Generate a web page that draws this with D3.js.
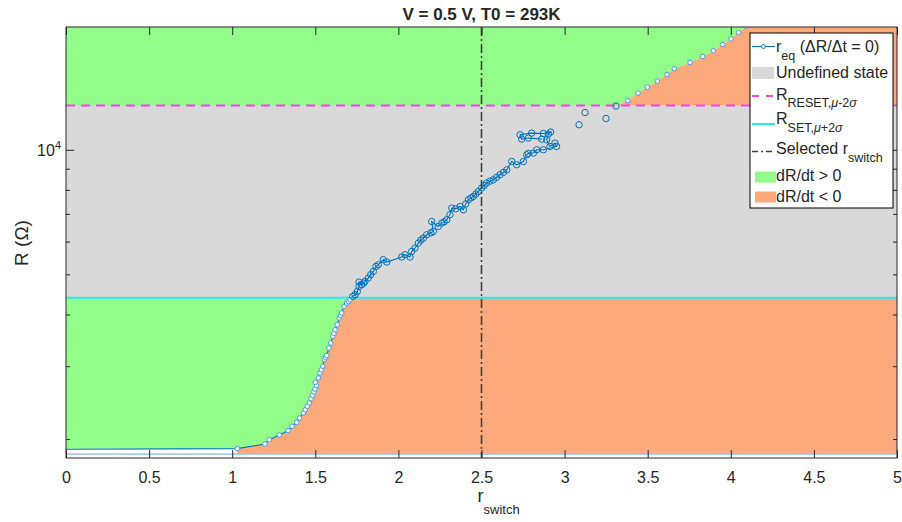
<!DOCTYPE html>
<html>
<head>
<meta charset="utf-8">
<style>
  body { margin: 0; background: #fff; }
  text { font-family: "Liberation Sans", Arial, Helvetica, sans-serif; fill: #262626; }
</style>
</head>
<body>
<script src="https://cdn.jsdelivr.net/npm/d3@7"></script>
<script>
var width = 902, height = 522;
var margin = { top: 27, right: 5, bottom: 64, left: 66 };
var innerW = width - margin.left - margin.right;
var innerH = height - margin.top - margin.bottom;

// axis ticks
var xTicks = [0, 0.5, 1, 1.5, 2, 2.5, 3, 3.5, 4, 4.5, 5];
var yMinorTicks = [2000, 3000, 4000, 5000, 6000, 7000, 8000, 9000];
var yMajorTicks = [10000];

// limits
var rSetLimit = 4390;     // R_SET, mu+2sigma
var rResetLimit = 12800;  // R_RESET, mu-2sigma
var rSelected = 2.5;
var rFloor = 1845;

// r_eq (dR/dt = 0), connected part [r_switch, R]
var eqPoints = [
  [-0.05, 1889], [1.031, 1896], [1.197, 1946], [1.223, 1993], [1.283, 2046], [1.336, 2096],
  [1.360, 2147], [1.388, 2195], [1.404, 2248], [1.428, 2312], [1.440, 2355], [1.452, 2399],
  [1.464, 2445], [1.474, 2504], [1.484, 2550], [1.492, 2599], [1.498, 2642], [1.508, 2692],
  [1.500, 2742], [1.518, 2810], [1.528, 2889], [1.536, 2940], [1.545, 2998], [1.554, 3112],
  [1.562, 3150], [1.569, 3182], [1.582, 3319], [1.593, 3413], [1.605, 3540], [1.612, 3600],
  [1.619, 3674], [1.632, 3777], [1.644, 3922], [1.652, 3980], [1.659, 4033], [1.673, 4183],
  [1.689, 4263], [1.700, 4300], [1.709, 4343], [1.725, 4423], [1.739, 4465], [1.753, 4548],
  [1.763, 4675], [1.763, 4791], [1.779, 4720], [1.790, 4760], [1.799, 4808], [1.819, 4899],
  [1.833, 4991], [1.849, 5082], [1.865, 5225], [1.879, 5275], [1.909, 5424], [1.930, 5355],
  [2.020, 5507], [2.040, 5578], [2.070, 5507], [2.080, 5680], [2.100, 5789], [2.120, 5952],
  [2.135, 6050], [2.150, 6117], [2.170, 6232], [2.195, 6300], [2.210, 6346], [2.200, 6710],
  [2.240, 6526], [2.261, 6650], [2.275, 6700], [2.291, 6774], [2.310, 6966], [2.321, 7231],
  [2.345, 7200], [2.371, 7295], [2.391, 7163], [2.405, 7400], [2.421, 7572], [2.436, 7650],
  [2.451, 7713], [2.466, 7820], [2.481, 7930], [2.501, 8086], [2.516, 8200], [2.531, 8311],
  [2.551, 8400], [2.571, 8462], [2.591, 8580], [2.611, 8700], [2.632, 8820], [2.652, 8946],
  [2.682, 9370], [2.712, 9200], [2.752, 9370], [2.772, 9725], [2.782, 9800], [2.812, 9818],
  [2.832, 10000], [2.872, 10000], [2.952, 10186], [2.942, 10380], [2.912, 10186], [2.892, 10572],
  [2.902, 10912], [2.916, 11036], [2.872, 10950], [2.802, 10973], [2.732, 10870], [2.742, 10612],
  [2.782, 10673], [2.862, 10612]
];

// r_eq, isolated points (no connecting line)
var eqIsolated = [
  [3.087, 11494], [3.123, 12303], [3.249, 11900], [3.309, 12753], [3.380, 13155], [3.442, 13709],
  [3.498, 14171], [3.558, 14655], [3.616, 15202], [3.660, 15693], [3.755, 16254], [3.831, 16805],
  [3.895, 17347], [3.951, 17966], [4.001, 18534], [4.047, 19196], [4.090, 19900]
];

// boundary between dR/dt > 0 and dR/dt < 0
var boundary = [
  [1.031, 1845], [1.031, 1896], [1.197, 1946], [1.223, 1993], [1.283, 2046], [1.336, 2096],
  [1.360, 2147], [1.388, 2195], [1.404, 2248], [1.428, 2312], [1.452, 2399], [1.474, 2504],
  [1.492, 2599], [1.508, 2692], [1.518, 2810], [1.545, 2998], [1.569, 3182], [1.593, 3413],
  [1.619, 3674], [1.644, 3922], [1.673, 4183], [1.709, 4343], [1.739, 4465], [3.309, 12753],
  [3.380, 13155], [3.442, 13709], [3.498, 14171], [3.558, 14655], [3.616, 15202], [3.660, 15693],
  [3.755, 16254], [3.831, 16805], [3.895, 17347], [3.951, 17966], [4.001, 18534], [4.047, 19196],
  [4.100, 20000]
];

var colGreen = "#93fd8a", colOrange = "#fcaa7c", colGray = "#d9d9d9";
var colBlue = "#0072bd", colMag = "#f044f0", colCyan = "#2ee6f2", colDark = "#404040";

var svg = d3.select("body").append("svg")
  .attr("width", width).attr("height", height);

svg.append("defs").append("clipPath").attr("id", "clip")
  .append("rect").attr("width", innerW).attr("height", innerH);

var g = svg.append("g").attr("transform", "translate(" + margin.left + "," + margin.top + ")");

var x = d3.scaleLinear().domain([0, 5]).range([0, innerW]);
var y = d3.scaleLog().domain([1800, 19800]).range([innerH, 0]);

var plot = g.append("g").attr("clip-path", "url(#clip)");

// dR/dt > 0
plot.append("path")
  .datum(boundary.slice(1))
  .attr("fill", colGreen)
  .attr("d", d3.area().y(d => y(d[1])).x0(x(0)).x1(d => x(d[0])));

// dR/dt < 0
plot.append("path")
  .datum(boundary)
  .attr("fill", colOrange)
  .attr("d", d3.area().y(d => y(d[1])).x0(d => x(d[0])).x1(x(5)));

// undefined state
plot.append("rect")
  .attr("x", 0).attr("width", innerW)
  .attr("y", y(rResetLimit)).attr("height", y(rSetLimit) - y(rResetLimit))
  .attr("fill", colGray);

plot.append("line")
  .attr("x1", 0).attr("x2", innerW)
  .attr("y1", y(rFloor) + 0.5).attr("y2", y(rFloor) + 0.5)
  .attr("stroke", "#5fa8e0").attr("stroke-width", 1);

plot.append("line")
  .attr("x1", 0).attr("x2", innerW)
  .attr("y1", y(rSetLimit)).attr("y2", y(rSetLimit))
  .attr("stroke", colCyan).attr("stroke-width", 2);

plot.append("line")
  .attr("x1", 0).attr("x2", innerW)
  .attr("y1", y(rResetLimit)).attr("y2", y(rResetLimit))
  .attr("stroke", colMag).attr("stroke-width", 2)
  .attr("stroke-dasharray", "9,6");

// r_eq curve
plot.append("path")
  .datum(eqPoints)
  .attr("fill", "none")
  .attr("stroke", colBlue)
  .attr("stroke-width", 1.1)
  .attr("d", d3.line().x(d => x(d[0])).y(d => y(d[1])));

function inGray(d) { return d[1] > rSetLimit && d[1] < rResetLimit; }

plot.selectAll("circle.eq")
  .data(eqPoints.slice(1).concat(eqIsolated))
  .enter().append("circle")
  .attr("class", "eq")
  .attr("cx", d => x(d[0]))
  .attr("cy", d => y(d[1]))
  .attr("r", d => inGray(d) ? 3.2 : 2.3)
  .attr("fill", d => inGray(d) ? "none" : "#ffffff")
  .attr("stroke", d => inGray(d) ? colBlue : "#4a9be0")
  .attr("stroke-width", 1);

// selected r_switch
plot.append("line")
  .attr("x1", x(rSelected)).attr("x2", x(rSelected))
  .attr("y1", 0).attr("y2", innerH)
  .attr("stroke", colDark).attr("stroke-width", 1.6)
  .attr("stroke-dasharray", "9,3,2,3");

// axes
var axisCol = "#262626";
var xb = g.append("g").attr("transform", "translate(0," + innerH + ")")
  .call(d3.axisBottom(x).tickValues(xTicks).tickSizeInner(-8).tickSizeOuter(0)
    .tickPadding(14).tickFormat(d3.format("~g")));
var xt = g.append("g")
  .call(d3.axisTop(x).tickValues(xTicks).tickSizeInner(-8).tickSizeOuter(0).tickFormat(""));
var yl = g.append("g")
  .call(d3.axisLeft(y).tickValues(yMinorTicks).tickSizeInner(-4).tickSizeOuter(0).tickFormat(""));
var yl2 = g.append("g")
  .call(d3.axisLeft(y).tickValues(yMajorTicks).tickSizeInner(-8).tickSizeOuter(0).tickFormat(""));
var yr = g.append("g").attr("transform", "translate(" + innerW + ",0)")
  .call(d3.axisRight(y).tickValues(yMinorTicks).tickSizeInner(-4).tickSizeOuter(0).tickFormat(""));
var yr2 = g.append("g").attr("transform", "translate(" + innerW + ",0)")
  .call(d3.axisRight(y).tickValues(yMajorTicks).tickSizeInner(-8).tickSizeOuter(0).tickFormat(""));

[xb, xt, yl, yl2, yr, yr2].forEach(function (a) {
  a.select(".domain").remove();
  a.selectAll(".tick line").attr("stroke", axisCol).attr("stroke-width", 1);
  a.selectAll("text").attr("fill", axisCol).style("font-size", "16px")
    .style("font-family", "'Liberation Sans', Arial, sans-serif");
});

// 10^4 label
yMajorTicks.forEach(function (v) {
  var t = g.append("text")
    .attr("x", -5).attr("y", y(v) + 6)
    .attr("text-anchor", "end")
    .style("font-size", "16px");
  t.append("tspan").text("10");
  t.append("tspan").attr("dy", -7).style("font-size", "11px").text(Math.log10(v));
});

g.append("rect")
  .attr("width", innerW).attr("height", innerH)
  .attr("fill", "none").attr("stroke", axisCol).attr("stroke-width", 1);

// title
svg.append("text")
  .attr("x", margin.left + innerW / 2).attr("y", 20)
  .attr("text-anchor", "middle")
  .style("font-size", "17px").style("font-weight", "bold")
  .text("V = 0.5 V, T0 = 293K");

// x label
var xl = svg.append("text")
  .attr("x", margin.left + innerW / 2 - 4).attr("y", 502)
  .style("font-size", "18px");
xl.append("tspan").text("r");
xl.append("tspan").attr("dy", 12).style("font-size", "13px").text("switch");

// y label
svg.append("text")
  .attr("transform", "translate(28," + (margin.top + 216) + ") rotate(-90)")
  .attr("text-anchor", "middle")
  .style("font-size", "19px")
  .text("R (\u03A9)");

// legend
var lg = svg.append("g").attr("transform", "translate(750,33)");
lg.append("rect").attr("width", 143).attr("height", 175)
  .attr("fill", "#ffffff").attr("stroke", "#000").attr("stroke-width", 1);

function legText(yy, main, sub, rest) {
  var t = lg.append("text").attr("x", 26).attr("y", yy).style("font-size", "16px");
  t.append("tspan").text(main);
  if (sub) {
    t.append("tspan").attr("dy", 8).style("font-size", "12.5px").text(sub);
    if (rest) t.append("tspan").attr("dy", -8).text(rest);
  }
}

// r_eq
lg.append("line").attr("x1", 2).attr("x2", 25).attr("y1", 13.5).attr("y2", 13.5)
  .attr("stroke", colBlue).attr("stroke-width", 1);
lg.append("circle").attr("cx", 13.5).attr("cy", 13.5).attr("r", 2)
  .attr("fill", "#fff").attr("stroke", colBlue).attr("stroke-width", 0.9);
legText(19, "r", "eq", " (\u0394R/\u0394t = 0)");

// undefined state
lg.append("rect").attr("x", 2).attr("y", 34).attr("width", 22).attr("height", 12).attr("fill", colGray);
legText(45, "Undefined state");

// R_RESET
lg.append("line").attr("x1", 2).attr("x2", 25).attr("y1", 63).attr("y2", 63)
  .attr("stroke", colMag).attr("stroke-width", 2).attr("stroke-dasharray", "7,7");
var tR = lg.append("text").attr("x", 26).attr("y", 67).style("font-size", "16px");
tR.append("tspan").text("R");
tR.append("tspan").attr("dy", 7).style("font-size", "12.5px").text("RESET,");
tR.append("tspan").style("font-size", "12.5px").style("font-style", "italic").text("\u03BC");
tR.append("tspan").style("font-size", "12.5px").text("-2");
tR.append("tspan").style("font-size", "12.5px").style("font-style", "italic").text("\u03C3");

// R_SET
lg.append("line").attr("x1", 2).attr("x2", 25).attr("y1", 91).attr("y2", 91)
  .attr("stroke", colCyan).attr("stroke-width", 2);
var tS = lg.append("text").attr("x", 26).attr("y", 91).style("font-size", "16px");
tS.append("tspan").text("R");
tS.append("tspan").attr("dy", 8).style("font-size", "12.5px").text("SET,");
tS.append("tspan").style("font-size", "12.5px").style("font-style", "italic").text("\u03BC");
tS.append("tspan").style("font-size", "12.5px").text("+2");
tS.append("tspan").style("font-size", "12.5px").style("font-style", "italic").text("\u03C3");

// selected r_switch
lg.append("line").attr("x1", 2).attr("x2", 25).attr("y1", 118.5).attr("y2", 118.5)
  .attr("stroke", colDark).attr("stroke-width", 1.6).attr("stroke-dasharray", "6,3,2,3");
legText(121, "Selected r", "switch");

// dR/dt > 0, < 0
lg.append("rect").attr("x", 5).attr("y", 138.5).attr("width", 21).attr("height", 11).attr("fill", colGreen);
legText(148, "dR/dt > 0");
lg.append("rect").attr("x", 5).attr("y", 158.5).attr("width", 21).attr("height", 11).attr("fill", colOrange);
legText(169, "dR/dt < 0");
</script>
</body>
</html>
